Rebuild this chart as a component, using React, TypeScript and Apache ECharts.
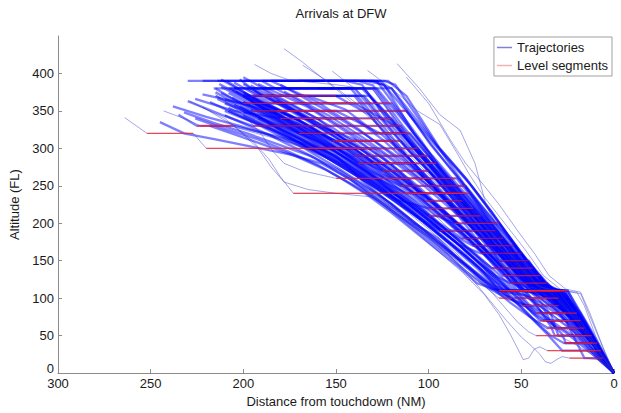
import React, { useEffect, useRef } from "react";
import * as echarts from "echarts";

// Trajectories: flat lists [distanceNM, altitudeFL, distanceNM, altitudeFL, ...]
const FRONT: number[][] = [
  [200,390, 126,390, 95,300, 77,250, 62,200, 47,150, 34,112, 25,110, 13,60, 4,20, 0,0],
  [222,390, 130,390, 120,380, 99,305, 82,255, 68,205, 52,150, 38,113, 27,110, 15,62, 5,20, 0,0],
  [190,380, 120,380, 96,305, 80,260, 66,215, 50,160, 36,120, 28,100, 14,55, 5,18, 0,0],
  [185,390, 124,390, 118,385, 100,320, 86,270, 70,215, 56,165, 42,120, 30,110, 18,70, 6,22, 0,0],
  [208,380, 135,380, 106,300, 88,250, 73,205, 58,160, 45,120, 33,100, 20,70, 8,30, 0,0],
  [175,390, 128,390, 104,310, 90,260, 74,210, 56,150, 40,110, 29,110, 16,65, 6,25, 0,0],
  [195,380, 140,380, 112,300, 92,250, 78,210, 62,160, 46,115, 35,100, 24,80, 10,40, 0,0],
  [214,390, 134,390, 124,385, 108,320, 94,270, 80,225, 64,170, 50,125, 38,110, 22,80, 9,35, 0,0],
  [160,380, 130,380, 110,310, 95,265, 83,235, 70,200, 55,150, 40,115, 30,105, 17,60, 5,18, 0,0],
  [200,370, 140,370, 114,290, 98,250, 84,210, 68,160, 52,120, 42,110, 26,80, 12,45, 0,0],
  [230,390, 145,390, 136,385, 120,330, 103,280, 88,235, 74,195, 60,155, 45,120, 32,110, 20,75, 8,30, 0,0],
  [180,370, 135,370, 110,295, 94,255, 78,210, 64,170, 50,130, 40,110, 28,90, 14,50, 4,15, 0,0],
  [170,390, 122,390, 112,370, 94,300, 80,260, 66,215, 52,165, 38,120, 29,110, 17,70, 6,26, 0,0],
  [205,380, 128,380, 98,290, 84,250, 70,210, 56,170, 44,135, 34,112, 26,100, 14,58, 5,20, 0,0],
  [190,390, 138,390, 130,384, 114,330, 98,283, 84,240, 70,200, 55,160, 42,125, 30,110, 18,72, 6,25, 0,0],
  [216,380, 142,380, 118,310, 102,260, 86,220, 72,180, 58,140, 45,110, 34,100, 20,65, 8,28, 0,0],
  [196,370, 132,370, 108,300, 90,248, 76,205, 62,165, 49,130, 38,110, 25,80, 12,42, 0,0],
  [178,380, 136,380, 124,350, 106,295, 90,250, 76,210, 60,162, 46,120, 34,108, 20,70, 7,25, 0,0],
];

const RIGHT_OUTLIERS: number[][] = [
  [117,413, 105,380, 94,345, 83,324, 75,280, 69,224, 60,180, 50,140, 40,115, 30,110, 20,108, 16,90, 10,50, 4,18, 0,0],
  [133,404, 120,380, 106,350, 94,332, 85,295, 78,265, 70,235, 59,200, 48,165, 38,130, 28,110, 18,106, 12,70, 5,28, 0,0],
  [112,395, 100,360, 88,310, 80,280, 70,250, 62,225, 52,190, 43,160, 35,130, 26,112, 18,108, 13,80, 6,35, 0,0],
];

const UPPER: number[][] = [
  [178,433, 168,415, 159,397, 148,375, 136,350, 118,310, 100,265, 86,225, 72,185, 58,145, 46,115, 34,108, 20,70, 7,25, 0,0],
  [152,403, 140,380, 124,345, 108,305, 92,262, 78,222, 64,180, 52,145, 40,115, 30,110, 17,66, 6,24, 0,0],
  [168,411, 156,392, 140,362, 124,330, 110,300, 95,260, 80,220, 66,180, 54,148, 42,118, 32,108, 18,68, 6,22, 0,0],
  [194,412, 185,400, 175,391, 150,385, 130,378, 112,320, 98,276, 84,236, 70,196, 57,156, 45,122, 35,110, 21,74, 8,28, 0,0],
];

const LEFT_OUTLIERS: number[][] = [
  [264,341, 252,320, 227,320, 220,300, 137,300, 120,265, 105,230, 92,200, 80,170, 68,140, 56,112, 45,100, 30,100, 20,70, 8,28, 0,0],
  [243,350, 230,338, 223,330, 207,330, 190,318, 170,305, 150,280, 130,250, 115,222, 100,192, 86,162, 74,134, 62,110, 48,102, 34,80, 20,52, 8,22, 0,0],
  [229,363, 210,340, 195,310, 186,285, 180,262, 173,240, 78,240, 68,205, 58,170, 48,140, 40,112, 30,110, 18,70, 7,26, 0,0],
  [222,355, 205,330, 192,300, 185,275, 178,255, 165,245, 150,240, 130,235, 112,210, 96,180, 82,150, 70,125, 60,110, 44,110, 30,85, 16,45, 6,16, 0,0],
  [215,372, 200,345, 190,318, 184,296, 178,280, 168,270, 150,260, 100,260, 88,225, 76,190, 64,155, 54,125, 46,112, 36,110, 24,80, 12,40, 4,14, 0,0],
];

const LOW_OUTLIERS: number[][] = [
  [140,255, 125,225, 110,195, 96,165, 82,135, 70,105, 62,78, 56,52, 51,28, 49,18, 46,20, 43,32, 40,35, 36,30, 30,30, 10,30, 4,14, 0,0],
  [132,245, 118,218, 104,190, 90,160, 78,130, 68,100, 58,70, 50,48, 44,35, 40,25, 37,15, 34,13, 31,18, 28,22, 24,20, 16,20, 8,18, 3,8, 0,0],
  [128,240, 114,212, 100,185, 88,160, 76,132, 66,108, 58,85, 52,68, 46,55, 42,50, 30,50, 22,40, 12,25, 4,8, 0,0],
  [136,250, 121,220, 108,195, 96,172, 84,146, 72,120, 62,100, 55,100, 48,85, 42,70, 36,62, 26,60, 16,40, 6,16, 0,0],
];

const MID: number[][] = [
  [212,392, 196,370, 150,370, 132,345, 116,300, 100,260, 86,222, 74,190, 62,160, 52,130, 44,112, 36,110, 26,90, 14,52, 5,18, 0,0],
  [205,388, 185,360, 120,360, 108,320, 96,282, 84,246, 72,210, 60,175, 50,145, 40,118, 30,110, 20,78, 10,40, 3,12, 0,0],
  [200,375, 182,350, 112,350, 100,310, 88,272, 76,236, 64,200, 52,165, 42,135, 34,112, 27,100, 16,62, 6,22, 0,0],
  [210,365, 170,340, 120,340, 108,300, 95,262, 82,226, 70,192, 58,160, 48,132, 40,110, 28,100, 18,70, 8,32, 0,0],
  [190,380, 160,330, 115,330, 104,295, 92,258, 80,222, 68,188, 56,154, 46,126, 38,110, 26,105, 15,62, 5,20, 0,0],
  [200,370, 170,320, 110,320, 100,290, 88,255, 76,220, 65,190, 54,160, 45,130, 36,110, 25,90, 14,55, 5,18, 0,0],
  [195,360, 150,310, 115,310, 104,280, 92,246, 80,212, 68,180, 56,150, 46,124, 38,110, 28,95, 16,58, 6,20, 0,0],
  [215,375, 190,340, 165,300, 106,300, 96,270, 84,235, 72,200, 60,168, 50,140, 42,115, 34,100, 20,65, 8,28, 0,0],
  [205,380, 175,345, 140,290, 100,290, 90,262, 78,228, 66,195, 55,165, 45,135, 38,112, 28,110, 18,80, 8,35, 0,0],
  [200,372, 168,335, 130,280, 96,280, 86,252, 74,218, 62,185, 52,155, 44,128, 36,110, 26,85, 14,48, 5,16, 0,0],
  [210,360, 180,330, 150,300, 125,270, 100,270, 90,242, 78,208, 66,176, 55,148, 46,122, 38,110, 26,100, 15,60, 5,20, 0,0],
  [198,368, 172,340, 145,300, 125,265, 120,260, 85,260, 76,232, 66,202, 56,172, 46,142, 40,120, 30,110, 20,80, 8,32, 0,0],
  [206,378, 180,350, 155,310, 132,270, 115,250, 80,250, 72,225, 62,195, 52,165, 44,138, 36,112, 28,100, 16,60, 6,22, 0,0],
  [185,372, 160,340, 140,300, 122,265, 108,240, 80,240, 70,210, 60,180, 50,150, 42,125, 34,110, 24,92, 13,52, 4,16, 0,0],
  [200,362, 175,330, 150,295, 128,260, 112,240, 85,240, 76,212, 66,184, 56,156, 47,130, 39,112, 30,108, 18,70, 7,28, 0,0],
  [192,386, 165,355, 142,318, 124,285, 110,255, 102,230, 82,230, 72,200, 62,170, 52,142, 44,118, 36,110, 24,85, 12,45, 4,15, 0,0],
  [210,350, 185,325, 160,295, 138,262, 118,232, 100,220, 76,220, 68,195, 58,165, 49,138, 42,116, 34,105, 22,72, 10,35, 0,0],
  [202,356, 178,328, 155,296, 134,262, 116,235, 100,210, 72,210, 64,185, 55,158, 46,132, 38,112, 30,100, 18,65, 7,25, 0,0],
  [196,364, 170,332, 148,300, 128,268, 110,236, 96,210, 86,200, 62,200, 54,174, 46,148, 38,122, 32,110, 22,86, 11,45, 3,12, 0,0],
  [214,366, 188,336, 164,304, 142,272, 124,240, 108,212, 94,190, 64,190, 56,162, 48,136, 40,115, 32,105, 20,70, 8,30, 0,0],
  [190,352, 166,322, 144,292, 124,260, 108,230, 94,200, 82,180, 60,180, 52,155, 44,130, 37,112, 28,100, 16,60, 6,22, 0,0],
  [208,374, 182,342, 158,308, 136,274, 118,242, 102,212, 88,186, 76,170, 54,170, 47,145, 40,122, 32,110, 22,85, 10,40, 0,0],
  [200,344, 176,316, 152,286, 132,256, 114,226, 98,198, 84,172, 72,160, 50,160, 44,138, 38,118, 30,108, 18,68, 7,26, 0,0],
  [185,390, 160,362, 138,326, 120,292, 104,258, 90,228, 78,198, 68,172, 62,150, 46,150, 40,128, 34,112, 26,100, 14,55, 5,18, 0,0],
  [212,382, 186,350, 162,316, 140,282, 120,248, 104,218, 90,190, 78,164, 66,140, 44,140, 38,120, 31,108, 20,75, 8,30, 0,0],
  [195,370, 170,338, 148,305, 128,272, 110,240, 95,212, 82,184, 70,158, 60,130, 40,130, 34,112, 26,100, 15,60, 5,18, 0,0],
  [205,358, 180,328, 156,296, 136,266, 118,236, 102,208, 88,180, 75,152, 64,130, 56,120, 36,120, 30,105, 20,75, 9,35, 0,0],
  [198,380, 172,348, 150,315, 130,282, 112,250, 96,218, 82,188, 70,160, 60,135, 52,110, 26,110, 16,68, 6,24, 0,0],
  [215,370, 190,340, 166,308, 144,276, 124,244, 108,214, 94,186, 80,158, 70,134, 62,110, 30,110, 20,80, 9,38, 0,0],
  [188,360, 164,330, 142,298, 122,264, 106,236, 92,208, 78,178, 66,148, 56,122, 48,110, 27,110, 16,64, 5,20, 0,0],
  [208,350, 182,322, 158,292, 138,262, 120,232, 104,204, 90,176, 76,148, 64,122, 56,110, 34,110, 24,82, 12,44, 4,14, 0,0],
  [180,385, 156,352, 134,318, 114,284, 98,250, 84,218, 70,184, 58,150, 48,124, 40,110, 25,110, 14,60, 4,16, 0,0],
  [200,395, 176,362, 152,328, 132,294, 114,262, 98,230, 84,198, 70,166, 58,136, 50,110, 28,110, 18,74, 7,28, 0,0],
  [192,340, 170,314, 148,286, 128,256, 112,228, 96,198, 82,168, 70,140, 60,112, 54,100, 36,100, 26,80, 14,48, 5,16, 0,0],
  [218,362, 194,334, 170,304, 148,272, 128,240, 112,210, 98,182, 84,154, 72,126, 62,110, 50,90, 30,90, 20,62, 9,30, 0,0],
  [204,376, 180,344, 156,310, 136,278, 118,246, 102,216, 88,186, 74,156, 62,126, 52,104, 42,80, 20,80, 12,52, 4,16, 0,0],
  [196,352, 172,324, 150,294, 130,262, 114,232, 98,202, 84,172, 72,144, 60,118, 50,96, 40,70, 18,70, 10,42, 3,12, 0,0],
  [210,344, 186,318, 162,288, 142,258, 124,228, 108,198, 92,168, 78,140, 66,114, 56,94, 46,76, 36,60, 16,60, 8,32, 0,0],
  [186,368, 162,336, 140,304, 120,270, 104,240, 90,212, 76,182, 64,152, 54,126, 46,104, 40,84, 34,62, 32,50, 12,50, 5,22, 0,0],
  [200,386, 176,352, 154,320, 134,288, 116,256, 100,224, 86,194, 72,164, 60,136, 50,110, 42,90, 34,68, 28,52, 26,40, 9,40, 3,14, 0,0],
  [212,374, 188,344, 166,314, 146,282, 128,252, 112,222, 98,194, 84,164, 72,138, 62,112, 52,92, 44,72, 36,52, 28,30, 7,30, 2,8, 0,0],
  [178,376, 154,344, 134,312, 116,280, 100,250, 86,220, 72,190, 60,160, 50,134, 42,112, 34,92, 26,70, 20,40, 16,20, 6,20, 0,0],
  [190,390, 166,358, 144,324, 124,292, 108,262, 94,232, 80,202, 68,172, 56,144, 46,118, 38,110, 28,108, 22,90, 16,70, 10,44, 4,16, 0,0],
  [206,368, 182,338, 160,306, 140,276, 122,246, 106,216, 92,188, 78,160, 66,134, 56,110, 42,110, 34,96, 26,80, 16,60, 8,30, 0,0],
  [194,378, 170,346, 148,312, 128,280, 110,250, 95,220, 80,190, 68,160, 56,132, 48,110, 36,100, 28,80, 20,60, 13,45, 6,20, 0,0],
  [213,386, 190,356, 168,324, 148,292, 130,262, 114,232, 100,204, 86,176, 74,150, 62,122, 52,100, 44,80, 38,70, 24,70, 12,40, 4,12, 0,0],
  [200,362, 178,334, 156,304, 136,274, 120,246, 104,218, 90,190, 76,162, 64,136, 54,112, 46,92, 38,80, 26,80, 16,55, 6,20, 0,0],
  [182,364, 160,334, 138,302, 120,270, 104,240, 90,210, 76,180, 64,150, 54,124, 46,104, 38,86, 32,60, 20,60, 10,35, 3,10, 0,0],
  [196,384, 172,352, 150,320, 130,288, 112,256, 96,226, 82,196, 70,168, 58,140, 48,116, 40,96, 34,78, 30,50, 15,50, 6,22, 0,0],
  [208,354, 184,326, 162,298, 142,268, 124,240, 108,212, 94,184, 80,156, 68,130, 58,106, 50,88, 42,68, 34,50, 27,40, 12,40, 4,14, 0,0],
  [222,372, 200,360, 140,360, 118,330, 104,292, 90,254, 78,222, 66,190, 56,162, 46,134, 40,112, 30,110, 18,70, 7,26, 0,0],
  [215,380, 195,350, 150,350, 126,320, 110,285, 96,250, 84,218, 72,186, 60,154, 50,128, 42,110, 32,108, 20,74, 8,30, 0,0],
  [202,392, 190,370, 165,370, 145,352, 128,320, 115,320, 104,290, 92,255, 80,220, 68,188, 56,156, 46,128, 38,110, 28,96, 16,58, 6,22, 0,0],
  [226,366, 205,350, 180,340, 140,340, 124,310, 110,278, 96,246, 84,214, 72,182, 60,150, 50,124, 42,110, 30,102, 18,68, 7,26, 0,0],
  [230,363, 212,345, 195,330, 160,330, 140,312, 122,282, 106,250, 92,218, 80,188, 68,158, 56,130, 46,110, 34,100, 20,66, 8,28, 0,0],
  [207,380, 188,352, 170,330, 152,310, 120,310, 108,280, 96,246, 84,214, 72,184, 60,154, 50,126, 42,110, 30,108, 18,70, 7,26, 0,0],
  [200,348, 178,322, 160,300, 130,300, 116,270, 102,238, 90,208, 78,178, 66,150, 56,124, 48,110, 36,106, 24,80, 12,42, 4,14, 0,0],
  [209,390, 190,360, 168,325, 150,300, 138,280, 110,280, 98,250, 86,218, 74,188, 62,158, 52,130, 44,112, 34,104, 22,72, 9,32, 0,0],
];

const BACK: number[][] = [
  [235,345, 225,330, 205,330, 185,318, 165,305, 150,290, 135,255, 120,225, 108,200, 95,180, 85,155, 72,130, 62,110, 45,110, 30,80, 18,45, 8,18, 0,0],
  [245,335, 232,320, 215,312, 195,302, 175,292, 158,280, 142,258, 128,232, 114,206, 100,182, 88,158, 76,134, 66,112, 54,110, 40,95, 26,70, 14,40, 5,14, 0,0],
  [238,356, 220,342, 202,330, 184,316, 166,300, 150,282, 136,262, 122,240, 110,216, 98,192, 86,166, 74,140, 64,116, 56,110, 44,108, 30,82, 16,46, 6,16, 0,0],
  [226,340, 210,326, 192,312, 176,296, 160,278, 146,258, 132,236, 120,214, 108,190, 96,166, 84,142, 74,120, 62,110, 48,104, 36,82, 22,56, 10,28, 0,0],
  [218,330, 204,318, 188,304, 172,290, 156,272, 140,250, 126,228, 114,206, 102,182, 90,158, 80,136, 68,114, 58,100, 46,90, 34,70, 20,46, 8,20, 0,0],
  [232,348, 216,334, 198,320, 182,306, 164,290, 148,270, 134,248, 120,226, 108,202, 96,178, 84,152, 72,128, 62,108, 52,96, 40,76, 26,54, 12,26, 0,0],
];

const X_TICKS = [0, 50, 100, 150, 200, 250, 300];
const Y_TICKS = [0, 50, 100, 150, 200, 250, 300, 350, 400];

const CORE = [...BACK, ...MID, ...FRONT];
const SPARSE = [...LEFT_OUTLIERS, ...LOW_OUTLIERS, ...UPPER, ...RIGHT_OUTLIERS];
const ALL = [...CORE, ...SPARSE];

function toCoords(t: number[]) {
  const c: number[][] = [];
  for (let i = 0; i + 1 < t.length; i += 2) c.push([t[i], t[i + 1]]);
  return c;
}

// level segments: horizontal parts of a trajectory below its starting altitude
function levelSegments(t: number[]) {
  const out: number[][][] = [];
  const a0 = t[1];
  for (let i = 0; i + 3 < t.length; i += 2) {
    if (t[i + 1] === t[i + 3] && t[i + 1] < a0 && t[i + 1] > 0) {
      out.push([[t[i], t[i + 1]], [t[i + 2], t[i + 3]]]);
    }
  }
  return out;
}

const FONT = "Liberation Sans, Arial, sans-serif";
const TXT = "#1a1a1a";
const AX = "#8c8c8c";

export default function App() {
  const ref = useRef<HTMLDivElement>(null);
  useEffect(() => {
    if (!ref.current) return;
    const chart = echarts.init(ref.current, undefined, { renderer: "svg" });
    const coreData = CORE.map((t) => ({ coords: toCoords(t) }));
    const sparseData = SPARSE.map((t) => ({ coords: toCoords(t) }));
    const levelData: { coords: number[][] }[] = [];
    ALL.forEach((t) => levelSegments(t).forEach((s) => levelData.push({ coords: s })));
    const lineSeries = (name: string, data: any[], color: string, width: number, z: number) => ({
      name,
      type: "lines",
      coordinateSystem: "cartesian2d",
      polyline: true,
      silent: true,
      large: false,
      z,
      itemStyle: { color },
      lineStyle: { color, width, opacity: 1 },
      data,
    });
    chart.setOption({
      animation: false,
      backgroundColor: "#ffffff",
      title: {
        text: "Arrivals at DFW",
        left: 336,
        top: 2,
        textAlign: "center",
        textStyle: { fontFamily: FONT, fontSize: 13, fontWeight: "normal", color: TXT },
      },
      legend: {
        orient: "vertical",
        right: 9,
        top: 37,
        padding: [4, 4, 4, 3],
        itemGap: 5,
        itemWidth: 15,
        itemHeight: 1.5,
        borderColor: "#a0a0a0",
        borderWidth: 1,
        borderRadius: 0,
        textStyle: { fontFamily: FONT, fontSize: 13, color: TXT },
        data: [
          { name: "Trajectories", icon: "rect", itemStyle: { color: "#8080d8", borderWidth: 0 }, lineStyle: { width: 0 } },
          { name: "Level segments", icon: "rect", itemStyle: { color: "#f2b0b0", borderWidth: 0 }, lineStyle: { width: 0 } },
        ],
      },
      grid: { left: 58, right: 7, top: 36, bottom: 32, containLabel: false },
      xAxis: {
        type: "value",
        min: 0,
        max: 300,
        interval: 50,
        inverse: true,
        name: "Distance from touchdown (NM)",
        nameLocation: "middle",
        nameGap: 18,
        nameTextStyle: { fontFamily: FONT, fontSize: 13, color: TXT },
        axisLine: { onZero: false, lineStyle: { color: AX, width: 1 } },
        axisTick: { inside: true, length: 4, lineStyle: { color: AX }, customValues: X_TICKS },
        axisLabel: { fontFamily: FONT, fontSize: 13, color: TXT, margin: 4, customValues: X_TICKS },
        splitLine: { show: false },
      },
      yAxis: {
        type: "value",
        min: 0,
        max: 450,
        interval: 50,
        name: "Altitude (FL)",
        nameLocation: "middle",
        nameGap: 27,
        nameTextStyle: { fontFamily: FONT, fontSize: 13, color: TXT },
        axisLine: { show: true, onZero: false, lineStyle: { color: AX, width: 1 } },
        axisTick: { show: true, inside: true, length: 4, lineStyle: { color: AX }, customValues: Y_TICKS },
        axisLabel: {
          fontFamily: FONT,
          fontSize: 13,
          color: TXT,
          margin: 4,
          customValues: Y_TICKS,
          formatter: (v: number) => (v === 0 ? "{z|0}" : String(v)),
          rich: { z: { fontFamily: FONT, fontSize: 13, color: TXT, padding: [0, 0, 9, 0] } },
        },
        splitLine: { show: false },
      },
      series: [
        lineSeries("Trajectories", coreData, "rgba(0,0,255,0.5)", 2.3, 2),
        lineSeries("Trajectories", sparseData, "rgba(40,40,200,0.42)", 1, 2),
        lineSeries("Level segments", levelData, "rgba(255,30,30,0.7)", 1.2, 3),
      ],
    });
    return () => chart.dispose();
  }, []);
  return (
    <div
      ref={ref}
      style={{ position: "fixed", left: 0, top: 0, width: 621, height: 413, background: "#fff" }}
    />
  );
}
